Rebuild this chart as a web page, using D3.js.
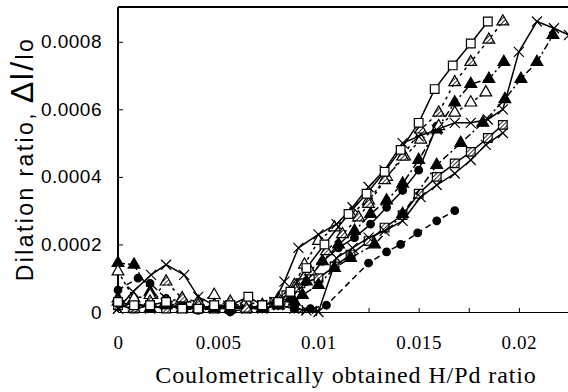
<!DOCTYPE html>
<html>
<head>
<meta charset="utf-8">
<script src="https://cdn.jsdelivr.net/npm/d3@7"></script>
<style>
  body { margin: 0; background: #fff; }
  svg { display: block; }
  .y-tick text { font-family: "Liberation Sans", Arial, sans-serif; font-size: 19px; letter-spacing: 0.5px; }
  .x-tick text { font-family: "Liberation Serif", "Times New Roman", serif; font-size: 19px; letter-spacing: 0.6px; }
</style>
</head>
<body>
<svg id="chart" width="568" height="392"></svg>
<script>
// values (x = H/Pd, y = dl/lo)
const xTicks = [0, 0.005, 0.01, 0.015, 0.02];
const xMinorTicks = [0, 0.0025, 0.005, 0.0075, 0.01, 0.0125, 0.015, 0.0175, 0.02];
const yTicks = [0, 0.0002, 0.0004, 0.0006, 0.0008];

const sqX = [0, 0.0008, 0.0016, 0.0024, 0.0032, 0.004, 0.0048, 0.0056, 0.0065, 0.0072, 0.008, 0.0086, 0.0094, 0.0103, 0.0115, 0.0124, 0.0133, 0.0141, 0.015, 0.0158, 0.0167, 0.0176, 0.01845];
const sqY = [0.00003, 0.00002, 0.00002, 0.00003, 0.00001, 0.00001, 0.00002, 0.00002, 0.000045, 0.00002, 0.00003, 0.00006, 0.00013, 0.0002, 0.00029, 0.00035, 0.000415, 0.00048, 0.00056, 0.00066, 0.00073, 0.000795, 0.00086];

const hatTriX = [0, 0.0008, 0.0016, 0.0024, 0.0032, 0.004, 0.0048, 0.0056, 0.0064, 0.0072, 0.008, 0.0088, 0.0096, 0.0104, 0.0112, 0.012, 0.0125, 0.0133, 0.0142, 0.0151, 0.016, 0.0168, 0.0176, 0.0185, 0.0192];
const hatTriY = [0.00003, 0.00001, 0.00003, 0.00009, 0.00004, 0.00002, 0.00002, 0.00003, 0.00001, 0.00002, 0.00003, 0.00007, 0.00012, 0.00018, 0.00023, 0.00028, 0.00032, 0.00039, 0.00046, 0.00054, 0.00059, 0.00068, 0.00074, 0.000806, 0.00086];

const openTriX = [0, 0.0008, 0.0016, 0.0024, 0.0032, 0.004, 0.0048, 0.0056, 0.0064, 0.0072, 0.008, 0.0088, 0.0093, 0.01, 0.0108, 0.0116, 0.0125, 0.0134, 0.0143, 0.0151, 0.016, 0.0168, 0.0176, 0.01835];
const openTriY = [0.00012, 0.00004, 0.00005, 0.00003, 0.00004, 0.00003, 0.00005, 0.00002, 0.00003, 0.00002, 0.00004, 0.00008, 0.00014, 0.00021, 0.00025, 0.00029, 0.00033, 0.0004, 0.00046, 0.00051, 0.00055, 0.00059, 0.00062, 0.00065];

const fillTriX = [0, 0.0008, 0.0016, 0.0024, 0.0032, 0.004, 0.0048, 0.0056, 0.0064, 0.0072, 0.008, 0.0086, 0.0094, 0.0102, 0.011, 0.0118, 0.0126, 0.0134, 0.0142, 0.015, 0.0159, 0.0168, 0.0176, 0.0185, 0.01925];
const fillTriY = [0.000145, 0.00014, 0.00006, 0.00003, 0.00002, 0.00001, 0.00002, 0.00001, 0.00002, 0.00001, 0.00002, 0.00004, 0.00009, 0.00015, 0.0002, 0.00024, 0.00029, 0.00033, 0.00038, 0.00045, 0.00054, 0.00062, 0.000675, 0.00069, 0.00074];

const fillTri2X = [0, 0.0008, 0.0016, 0.0024, 0.0032, 0.004, 0.0048, 0.0056, 0.0064, 0.0072, 0.008, 0.0088, 0.0092, 0.01, 0.0108, 0.0116, 0.0128, 0.0142, 0.0159, 0.0171, 0.0182, 0.0193, 0.0201, 0.0209, 0.0217];
const fillTri2Y = [0.00004, 0.00002, 0.00001, 0.00002, 0.00001, 0.00002, 0.00001, 0.00002, 0.00001, 0.00001, 0.00002, 0.00003, 0.00005, 0.00008, 0.00013, 0.00016, 0.0002, 0.00029, 0.000435, 0.0005, 0.00056, 0.00063, 0.00069, 0.00074, 0.00082];

const crossX = [0, 0.00075, 0.00165, 0.0024, 0.0033, 0.004, 0.0048, 0.0056, 0.0064, 0.0072, 0.0078, 0.0083, 0.009, 0.01, 0.0109, 0.0117, 0.0125, 0.0133, 0.0142, 0.015, 0.0159, 0.0168, 0.0176, 0.01845, 0.0192, 0.02, 0.0209, 0.02175, 0.0225];
const crossY = [0.00001, 0.00006, 0.00011, 0.00014, 0.00011, 0.000045, 0.00002, 0.00001, 0.00001, 0.00002, 0.00003, 0.00009, 0.00019, 0.00023, 0.00026, 0.00031, 0.00037, 0.00042, 0.0005, 0.00052, 0.00054, 0.00056, 0.00056, 0.00057, 0.0006, 0.00077, 0.00086, 0.00084, 0.00082];

const hatSqX = [0, 0.0008, 0.0016, 0.0024, 0.0032, 0.004, 0.0048, 0.0056, 0.0064, 0.0072, 0.0078, 0.0084, 0.0091, 0.01, 0.0108, 0.0116, 0.0125, 0.0133, 0.0142, 0.015, 0.0159, 0.0168, 0.0176, 0.01845, 0.0192];
const hatSqY = [0.00002, 0.00001, 0.00002, 0.00001, 0.00002, 0.00001, 0.00001, 0.00002, 0.00001, 0.00002, 0.00003, 0.00005, 0.000085, 0.0001, 0.000135, 0.00017, 0.00021, 0.00025, 0.000287, 0.00035, 0.0004, 0.00044, 0.000474, 0.000515, 0.000554];

const cross2X = [0, 0.0008, 0.0016, 0.0024, 0.0032, 0.004, 0.0048, 0.0056, 0.0064, 0.0072, 0.008, 0.0088, 0.0094, 0.01, 0.0109, 0.0117, 0.0125, 0.0133, 0.0142, 0.0151, 0.0159, 0.0168, 0.0176, 0.01835, 0.0192];
const cross2Y = [0.00001, 0.00003, 0.00001, 0.00002, 0.00001, 0.00002, 0.00001, 0.00001, 0.00002, 0.00001, 0.00002, 0.00001, 0.000005, 0, 0.00016, 0.00019, 0.00022, 0.00024, 0.00027, 0.00034, 0.000376, 0.00041, 0.00045, 0.000495, 0.00053];

const circX = [0, 0.001, 0.0016, 0.0024, 0.0033, 0.004, 0.0048, 0.0056, 0.0064, 0.0072, 0.008, 0.0088, 0.0096, 0.0104, 0.0125, 0.0134, 0.0141, 0.01495, 0.0159, 0.0168];
const circY = [0.000065, 0.0001, 0.000085, 0.00004, 0.00001, 0.000005, 0.00001, 0, 0.00001, 0.00001, 0.00002, 0.00001, 0.00001, 0.00002, 0.000145, 0.000178, 0.0002, 0.000234, 0.00027, 0.0003];

const circ2X = [0.0086, 0.0094, 0.0102, 0.011, 0.0118, 0.0126, 0.0134, 0.0142, 0.015, 0.0159];
const circ2Y = [0.00004, 0.00009, 0.00015, 0.00019, 0.00022, 0.00026, 0.00031, 0.00036, 0.00042, 0.00055];

const starX = [0.0072, 0.008, 0.0088, 0.0092, 0.0099];
const starY = [0.00001, 0.00002, 0.00001, 0.000005, 0.000003];

const series = [
    { name: 'circ',    xs: circX,     ys: circY,     marker: 'circle',  dash: '6,4' },
    { name: 'circ2',   xs: circ2X,    ys: circ2Y,    marker: 'circle',  dash: null },
    { name: 'star',    xs: starX,     ys: starY,     marker: 'star',    dash: '5,3' },
    { name: 'hatSq',   xs: hatSqX,    ys: hatSqY,    marker: 'hatSq',   dash: null },
    { name: 'cross2',  xs: cross2X,   ys: cross2Y,   marker: 'cross',   dash: null },
    { name: 'fillTri2',xs: fillTri2X, ys: fillTri2Y, marker: 'fillTri', dash: '7,3,2,3' },
    { name: 'fillTri', xs: fillTriX,  ys: fillTriY,  marker: 'fillTri', dash: '7,3,2,3' },
    { name: 'openTri', xs: openTriX,  ys: openTriY,  marker: 'openTri', dash: '3,3' },
    { name: 'cross',   xs: crossX,    ys: crossY,    marker: 'cross',   dash: null },
    { name: 'hatTri',  xs: hatTriX,   ys: hatTriY,   marker: 'hatTri',  dash: '3,4' },
    { name: 'sq',      xs: sqX,       ys: sqY,       marker: 'square',  dash: null }
];

const svg = d3.select('#chart');

const x = d3.scaleLinear().domain([0, 0.02245]).range([118, 568]);
const y = d3.scaleLinear().domain([0, 0.0009]).range([312, 8]);

// hatch pattern for the grey markers
const defs = svg.append('defs');
defs.append('pattern')
    .attr('id', 'hatch')
    .attr('width', 3).attr('height', 3)
    .attr('patternUnits', 'userSpaceOnUse')
    .attr('patternTransform', 'rotate(45)')
    .call(p => {
        p.append('rect').attr('width', 3).attr('height', 3).attr('fill', '#fff');
        p.append('line').attr('x1', 0).attr('y1', 0).attr('x2', 0).attr('y2', 3)
            .attr('stroke', '#000').attr('stroke-width', 1.6);
    });

// frame top
svg.append('line')
    .attr('x1', x(0)).attr('x2', 568)
    .attr('y1', 7).attr('y2', 7)
    .attr('stroke', '#000').attr('stroke-width', 2);

// x axis, minor ticks then labels
svg.append('g')
    .attr('transform', `translate(0, ${y(0)})`)
    .call(d3.axisBottom(x).tickValues(xMinorTicks).tickSize(-4).tickSizeOuter(0).tickFormat(''))
    .call(g => g.selectAll('line').attr('stroke-width', 1))
    .call(g => g.select('.domain').attr('stroke-width', 1.2));

svg.append('g')
    .attr('class', 'x-tick')
    .attr('transform', `translate(0, ${y(0)})`)
    .call(d3.axisBottom(x).tickValues(xTicks).tickSize(0).tickPadding(24)
        .tickFormat(d => d === 0 ? '0' : String(+d.toFixed(3))))
    .call(g => g.select('.domain').remove())
    .call(g => g.selectAll('text').attr('fill', '#000'));

// y axis
svg.append('g')
    .attr('class', 'y-tick')
    .attr('transform', `translate(${x(0)}, 0)`)
    .call(d3.axisLeft(y).tickValues(yTicks).tickSize(-5).tickSizeOuter(0).tickPadding(16)
        .tickFormat(d => d === 0 ? '0' : d.toFixed(4)))
    .call(g => g.select('.domain').attr('d', `M0,${y(0)}V7`).attr('stroke-width', 2))
    .call(g => g.selectAll('text').attr('fill', '#000'));

// axis titles
svg.append('text')
    .attr('x', 346).attr('y', 383)
    .attr('text-anchor', 'middle')
    .attr('font-family', '"Liberation Serif", "Times New Roman", serif')
    .attr('font-size', 24)
    .attr('letter-spacing', 0.9)
    .text('Coulometrically obtained H/Pd ratio');

const yLabel = svg.append('text')
    .attr('transform', 'translate(33, 159) rotate(-90)')
    .attr('text-anchor', 'middle')
    .attr('font-family', '"Liberation Sans", Arial, sans-serif')
    .attr('font-size', 23)
    .attr('letter-spacing', 2.4);
yLabel.append('tspan').text('Dilation ratio, ');
yLabel.append('tspan').attr('font-size', 32).text('∆l/');
yLabel.append('tspan').text('lo');

// markers
function markerPath(kind) {
    switch (kind) {
        case 'square':
        case 'hatSq':
            return d3.symbol(d3.symbolSquare, 75)();
        case 'openTri':
        case 'fillTri':
        case 'hatTri':
            return d3.symbol(d3.symbolTriangle, 60)();
        case 'circle':
            return d3.symbol(d3.symbolCircle, 45)();
        case 'cross':
            return 'M-5,-5L5,5M-5,5L5,-5';
        case 'star':
            return 'M0,-5V5M-4.5,-2.5L4.5,2.5M-4.5,2.5L4.5,-2.5';
    }
}
function markerFill(kind) {
    if (kind === 'fillTri' || kind === 'circle') return '#000';
    if (kind === 'hatTri' || kind === 'hatSq') return 'url(#hatch)';
    if (kind === 'cross' || kind === 'star') return 'none';
    return '#fff';
}

const line = d3.line().x(d => x(d.x)).y(d => y(d.y));
const plot = svg.append('g').attr('id', 'dots');

series.forEach(s => {
    const pts = s.xs.map((v, i) => ({ x: v, y: s.ys[i] }));
    plot.append('path')
        .datum(pts)
        .attr('d', line)
        .attr('fill', 'none')
        .attr('stroke', '#000')
        .attr('stroke-width', 1.5)
        .attr('stroke-dasharray', s.dash);
    plot.selectAll(`.m-${s.name}`)
        .data(pts)
        .join('path')
        .attr('class', `m-${s.name}`)
        .attr('transform', d => `translate(${x(d.x)}, ${y(d.y)})`)
        .attr('d', markerPath(s.marker))
        .attr('fill', markerFill(s.marker))
        .attr('stroke', '#000')
        .attr('stroke-width', 1.2);
});
</script>
</body>
</html>
